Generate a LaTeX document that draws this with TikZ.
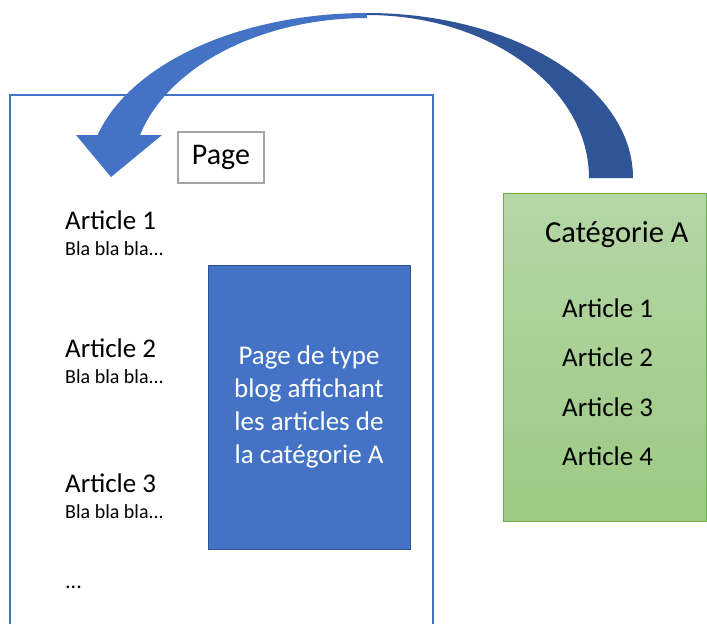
\documentclass[tikz,border=0pt]{standalone}
\usepackage{fontspec}
\setmainfont{Carlito}
\usepackage{xcolor}
\definecolor{pageblue}{HTML}{4472C4}
\definecolor{darkblue}{HTML}{2F5597}
\definecolor{boxedge}{HTML}{2F528F}
\definecolor{greentop}{HTML}{B5D6A6}
\definecolor{greenbot}{HTML}{9DC983}
\definecolor{greenedge}{HTML}{70AD47}
\definecolor{pagegray}{HTML}{A5A5A5}

\begin{document}
\begin{tikzpicture}[x=1pt,y=-1pt,
            title text/.style={font=\fontsize{27}{33}\selectfont,anchor=base west,inner sep=0pt},
            small text/.style={font=\fontsize{20}{24}\selectfont,anchor=base west,inner sep=0pt}]
  \useasboundingbox (0,0) rectangle (707,624);

  % la page
  \draw[pageblue,line width=1.5pt] (10,624) -- (10,95) -- (433,95) -- (433,624);
  \node[draw=pagegray,line width=1.2pt,minimum width=86pt,minimum height=51pt,
        font=\fontsize{30}{36}\selectfont] (pagelabel) at (221,157.5) {Page};

  \foreach \i/\y in {1/229,2/357,3/492}{
    \node[title text] (art\i) at (65,\y) {Article \i};
    \node[small text] (bla\i) at (65,\y+26) {Bla bla bla...};
  }
  \node[small text,font=\fontsize{22}{26}\selectfont] (dots) at (65,588) {...};

  \node[fill=pageblue,draw=boxedge,line width=1pt,minimum width=202pt,minimum height=284pt,
        text=white,align=center,font=\fontsize{27}{33}\selectfont] (blogbox) at (309,407)
        {Page de type\\blog affichant\\les articles de\\la catégorie A};

  % la categorie
  \node[draw=greenedge,line width=1.2pt,top color=greentop,bottom color=greenbot,
        minimum width=203pt,minimum height=328pt,anchor=north west] (cat) at (503,193) {};
  \node[title text,font=\fontsize{30.5}{36}\selectfont] (cattitle) at (545,242) {Catégorie A};
  \foreach \i in {1,...,4}
    \node[title text] (cat\i) at (562,{317+49.5*(\i-1)}) {Article \i};

  % fleche courbe : arriere puis avant
  \fill[darkblue] (633,178) arc[start angle=0,end angle=90,x radius=266pt,y radius=165pt]
     -- (367,15) arc[start angle=90,end angle=0,x radius=222pt,y radius=163pt] -- cycle;
  \fill[pageblue] (367,13) arc[start angle=90,end angle=164.9,x radius=279pt,y radius=165pt]
     -- (76,135) -- (111,177) -- (162,135) -- (140,135)
     arc[start angle=164.4,end angle=90,x radius=235.6pt,y radius=160pt] -- cycle;
\end{tikzpicture}
\end{document}
